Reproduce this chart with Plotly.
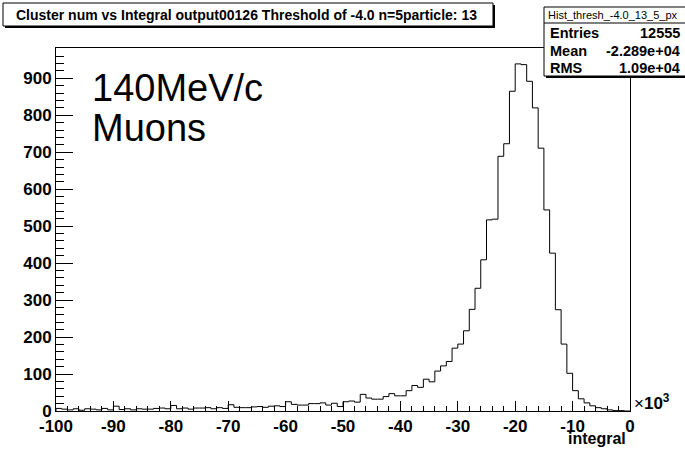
import plotly.graph_objects as go

# ---- data (integral in units of 10^3, 1k-wide bins from -100 to 0) ----
bin_lo = -100
bin_width = 1
counts = [
    7, 5, 3, 6, 2, 6, 5, 3, 7, 3,            # -100 .. -91
    13, 4, 6, 3, 6, 5, 5, 7, 8, 6,           # -90 .. -81
    15, 6, 8, 5, 8, 8, 9, 6, 9, 7,           # -80 .. -71
    17, 10, 9, 9, 11, 12, 10, 13, 14, 12,    # -70 .. -61
    25, 18, 16, 16, 20, 20, 22, 16, 21, 12,  # -60 .. -51
    25, 27, 24, 45, 35, 32, 32, 39, 47, 41,  # -50 .. -41
    41, 55, 69, 64, 86, 79, 108, 122, 134, 170,       # -40 .. -31
    181, 217, 275, 332, 409, 517, 519, 689, 723, 865, # -30 .. -21
    939, 937, 892, 820, 711, 544, 427, 274, 181, 102, # -20 .. -11
    55, 33, 22, 14, 9, 6, 3, 1, 1, 0,                 # -10 .. -1
]
x_tick_vals = [-100, -90, -80, -70, -60, -50, -40, -30, -20, -10, 0]
x_tick_text = ["-100", "-90", "-80", "-70", "-60", "-50", "-40", "-30", "-20", "-10", "0"]
y_tick_vals = [0, 100, 200, 300, 400, 500, 600, 700, 800, 900]
y_tick_text = ["0", "100", "200", "300", "400", "500", "600", "700", "800", "900"]

title_text = "Cluster num vs Integral output00126 Threshold of -4.0 n=5particle: 13"
stats_name = "Hist_thresh_-4.0_13_5_px"
stats_labels = ["Entries", "Mean", "RMS"]
stats_values = ["12555", "-2.289e+04", "1.09e+04"]
label_lines = ["140MeV/c", "Muons"]
x_title = "integral"

# ---- geometry ----
W, Hh = 685, 449
L, R, T, B = 56, 630, 48, 411
pw, ph = R - L, B - T
X_RANGE = [-100, 0]
Y_RANGE = [0, 982]

def px(X):
    return (X - L) / pw

def py(Y):
    return (B - Y) / ph

# ---- build step outline ----
n = len(counts)
edges = [bin_lo + i * bin_width for i in range(n + 1)]
xs = [edges[0]] + edges[:-1] + [edges[-1]]
ys = [0] + counts + [0]

x_minor = list(range(-100, 1, 2))
y_minor = list(range(0, 981, 20))

FONT = "Liberation Sans"

fig = go.Figure()
fig.add_trace(go.Scatter(x=xs, y=ys, mode="lines", line=dict(color="black", width=1, shape="hv"),
                         hoverinfo="skip", showlegend=False))

fig.update_layout(
    width=W, height=Hh,
    margin=dict(l=L, r=W - R, t=T, b=Hh - B, autoexpand=False),
    paper_bgcolor="white", plot_bgcolor="white",
    showlegend=False,
)
fig.update_xaxes(
    range=X_RANGE, showgrid=False, zeroline=False, automargin=False,
    showline=True, linecolor="black", linewidth=1, mirror=True,
    tickmode="array", tickvals=x_tick_vals, ticktext=x_tick_text,
    ticks="inside", ticklen=10, tickwidth=1, tickcolor="black",
    minor=dict(ticks="inside", ticklen=5, tickwidth=1, tickcolor="black",
               tickmode="array", tickvals=x_minor),
    tickfont=dict(family=FONT, size=17, color="black", weight="bold"),
)
fig.update_yaxes(
    range=Y_RANGE, showgrid=False, zeroline=False, automargin=False,
    showline=True, linecolor="black", linewidth=1, mirror=True,
    tickmode="array", tickvals=y_tick_vals, ticktext=y_tick_text,
    ticks="inside", ticklen=17, tickwidth=1, tickcolor="black",
    minor=dict(ticks="inside", ticklen=8, tickwidth=1, tickcolor="black",
               tickmode="array", tickvals=y_minor),
    tickfont=dict(family=FONT, size=17, color="black", weight="bold"),
)

shapes = []
# title box with shadow
shapes.append(dict(type="rect", xref="paper", yref="paper", x0=px(5), x1=px(495), y0=py(28), y1=py(5),
                   fillcolor="black", line=dict(width=0), layer="above"))
shapes.append(dict(type="rect", xref="paper", yref="paper", x0=px(3), x1=px(493), y0=py(26), y1=py(3),
                   fillcolor="white", line=dict(color="black", width=1), layer="above"))
# stats box with shadow
shapes.append(dict(type="rect", xref="paper", yref="paper", x0=px(546), x1=px(692), y0=py(78), y1=py(9),
                   fillcolor="black", line=dict(width=0), layer="above"))
shapes.append(dict(type="rect", xref="paper", yref="paper", x0=px(544), x1=px(690), y0=py(76), y1=py(7),
                   fillcolor="white", line=dict(color="black", width=1), layer="above"))
shapes.append(dict(type="line", xref="paper", yref="paper", x0=px(544), x1=px(690), y0=py(23), y1=py(23),
                   line=dict(color="black", width=1), layer="above"))
fig.update_layout(shapes=shapes)

ann = []
ann.append(dict(text=title_text, xref="paper", yref="paper", x=px(246), y=py(15),
                xanchor="center", yanchor="middle", showarrow=False,
                font=dict(family=FONT, size=14, color="black", weight="bold")))
ann.append(dict(text=stats_name, xref="paper", yref="paper", x=px(613), y=py(15),
                xanchor="center", yanchor="middle", showarrow=False,
                font=dict(family=FONT, size=11, color="black")))
row_y = [33, 50.5, 68]
for lab, val, ry in zip(stats_labels, stats_values, row_y):
    ann.append(dict(text=lab, xref="paper", yref="paper", x=px(548), y=py(ry),
                    xanchor="left", yanchor="middle", showarrow=False,
                    font=dict(family=FONT, size=14.5, color="black", weight="bold")))
    ann.append(dict(text=val, xref="paper", yref="paper", x=px(682), y=py(ry),
                    xanchor="right", yanchor="middle", showarrow=False,
                    font=dict(family=FONT, size=14.5, color="black", weight="bold")))
for line, ly in zip(label_lines, [88, 128]):
    ann.append(dict(text=line, xref="paper", yref="paper", x=px(90), y=py(ly),
                    xanchor="left", yanchor="middle", showarrow=False,
                    font=dict(family=FONT, size=38, color="black")))
ann.append(dict(text=x_title, xref="paper", yref="paper", x=px(628), y=py(438),
                xanchor="right", yanchor="middle", showarrow=False,
                font=dict(family=FONT, size=16, color="black", weight="bold")))
ann.append(dict(text="×<b>10<sup>3</sup></b>", xref="paper", yref="paper", x=px(632), y=py(402),
                xanchor="left", yanchor="middle", showarrow=False,
                font=dict(family=FONT, size=17, color="black")))
fig.update_layout(annotations=ann)

fig.write_html("out.html")
